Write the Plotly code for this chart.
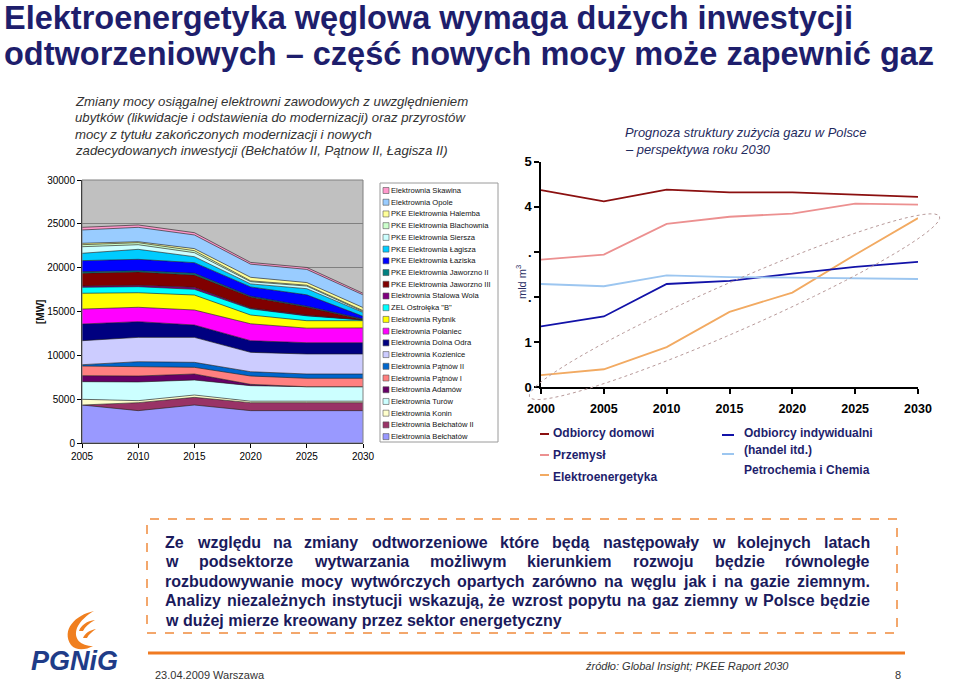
import math
import plotly.graph_objects as go

W, H = 960, 694
def PX(x): return x / W
def PY(y): return 1 - y / H

# ---------------- data: left chart (MW, stacked, bottom -> top) ----------------
years_power = [2005, 2010, 2015, 2020, 2025, 2030]

belchatow     = [4335, 3690, 4335, 3690, 3690, 3690]
belchatow_ii  = [0, 910, 875, 910, 910, 910]
konin         = [650, 230, 265, 170, 170, 170]
turow         = [2010, 2130, 1710, 1770, 1650, 1650]
adamow        = [685, 680, 685, 150, 0, 0]
patnow_i      = [1100, 1060, 760, 950, 960, 960]
patnow_ii     = [150, 570, 570, 490, 490, 490]
kozienice     = [2740, 2780, 2850, 2210, 2280, 2280]
dolna_odra    = [1900, 1790, 1410, 1330, 1290, 1290]
polaniec      = [1710, 1640, 1710, 1930, 1660, 1690]
rybnik        = [1800, 1660, 1710, 1000, 850, 820]
ostroleka_b   = [680, 690, 650, 700, 550, 80]
stalowa_wola  = [150, 160, 230, 100, 80, 0]
jaworzno_iii  = [1450, 1510, 1400, 1250, 920, 30]
jaworzno_ii   = [180, 150, 200, 100, 100, 90]
laziska       = [1260, 1300, 1210, 1050, 1300, 300]
lagisza       = [840, 1140, 680, 350, 700, 450]
siersza       = [750, 530, 460, 250, 300, 100]
blachownia    = [230, 230, 230, 100, 100, 100]
halemba       = [160, 110, 230, 400, 300, 350]
opole         = [1520, 1640, 1560, 1500, 1500, 1450]
skawina       = [300, 270, 260, 200, 220, 180]

station_names = [
    "Elektrownia Bełchatów", "Elektrownia Bełchatów II", "Elektrownia Konin",
    "Elektrownia Turów", "Elektrownia Adamów", "Elektrownia Pątnów I",
    "Elektrownia Pątnów II", "Elektrownia Kozienice", "Elektrownia Dolna Odra",
    "Elektrownia Połaniec", "Elektrownia Rybnik", 'ZEL Ostrołęka "B"',
    "Elektrownia Stalowa Wola", "PKE Elektrownia Jaworzno III", "PKE Elektrownia Jaworzno II",
    "PKE Elektrownia Łaziska", "PKE Elektrownia Łagisza", "PKE Elektrownia Siersza",
    "PKE Elektrownia Blachownia", "PKE Elektrownia Halemba", "Elektrownia Opole",
    "Elektrownia Skawina",
]
station_values = [
    belchatow, belchatow_ii, konin, turow, adamow, patnow_i, patnow_ii, kozienice,
    dolna_odra, polaniec, rybnik, ostroleka_b, stalowa_wola, jaworzno_iii, jaworzno_ii,
    laziska, lagisza, siersza, blachownia, halemba, opole, skawina,
]
station_colors = [
    "#9999FF", "#993366", "#FFFFCC", "#CCFFFF", "#660066", "#FF8080", "#0066CC",
    "#CCCCFF", "#000080", "#FF00FF", "#FFFF00", "#00FFFF", "#800080", "#800000",
    "#008080", "#0000FF", "#00CCFF", "#CCFFFF", "#CCFFCC", "#FFFF99", "#99CCFF",
    "#FF99CC",
]

# ---------------- data: right chart (mld m3) ----------------
years_gas = [2000, 2005, 2010, 2015, 2020, 2025, 2030]
odbiorcy_domowi       = [4.37, 4.12, 4.38, 4.32, 4.32, 4.27, 4.22]
przemysl              = [2.83, 2.94, 3.62, 3.78, 3.85, 4.07, 4.05]
elektroenergetyka     = [0.27, 0.40, 0.89, 1.67, 2.10, 2.94, 3.75]
odbiorcy_indywidualni = [1.35, 1.57, 2.29, 2.36, 2.52, 2.67, 2.78]
petrochemia_chemia    = [2.29, 2.24, 2.48, 2.44, 2.43, 2.42, 2.40]

gas_names = ["Odbiorcy domowi", "Przemysł", "Elektroenergetyka",
             "Odbiorcy indywidualni", "Petrochemia i Chemia"]
gas_values = [odbiorcy_domowi, przemysl, elektroenergetyka,
              odbiorcy_indywidualni, petrochemia_chemia]
gas_colors = ["#8B1010", "#EC9090", "#F2AA62", "#1212A8", "#9CC6F0"]
gas_ticks = [0, 1, 2, 3, 4, 5]
gas_ticktext = ["0", "1", ".", ".", "4", "5"]

# ---------------- texts ----------------
title_lines = ["Elektroenergetyka węglowa wymaga dużych inwestycji",
               "odtworzeniowych – część nowych mocy może zapewnić gaz"]
left_desc = ["Zmiany mocy osiągalnej elektrowni zawodowych z uwzględnieniem",
             "ubytków (likwidacje i odstawienia do modernizacji) oraz przyrostów",
             "mocy z tytułu zakończonych modernizacji i nowych",
             "zadecydowanych inwestycji (Bełchatów II, Pątnow II, Łagisza II)"]
right_desc = ["Prognoza struktury zużycia gazu w Polsce",
              "– perspektywa roku 2030"]
box_lines = ["Ze względu na zmiany odtworzeniowe które będą następowały w kolejnych latach",
             "w podsektorze wytwarzania możliwym kierunkiem rozwoju będzie równoległe",
             "rozbudowywanie mocy wytwórczych opartych zarówno na węglu jak i na gazie ziemnym.",
             "Analizy niezależnych instytucji wskazują, że wzrost popytu na gaz ziemny w Polsce będzie",
             "w dużej mierze kreowany przez sektor energetyczny"]

FONT = "Liberation Sans, Arial, sans-serif"
NAVY = "#1E1E6C"

# approximate Arial/Liberation Sans Bold advance widths (1/1000 em) for justification
BOLD_W = {" ": 278, ",": 278, ".": 278,
          "a": 556, "b": 611, "c": 556, "d": 611, "e": 556, "f": 333, "g": 611, "h": 611,
          "i": 278, "j": 278, "k": 556, "l": 278, "m": 889, "n": 611, "o": 611, "p": 611,
          "q": 611, "r": 389, "s": 556, "t": 333, "u": 611, "v": 556, "w": 778, "x": 556,
          "y": 556, "z": 500, "A": 722, "P": 667, "W": 944, "Z": 611,
          "ą": 556, "ć": 556, "ę": 556, "ł": 278, "ń": 611, "ó": 611, "ś": 556, "ź": 500,
          "ż": 500}
def bold_width(s, size):
    return sum(BOLD_W.get(ch, 600) for ch in s) * size / 1000.0

fig = go.Figure()

# left stacked area chart
for name, vals, col in zip(station_names, station_values, station_colors):
    fig.add_trace(go.Scatter(
        x=years_power, y=vals, name=name, mode="lines", stackgroup="one",
        line=dict(color="#1a1a1a", width=0.6), fillcolor=col,
        xaxis="x", yaxis="y", showlegend=False, hoverinfo="skip"))

# right line chart
for name, vals, col in zip(gas_names, gas_values, gas_colors):
    fig.add_trace(go.Scatter(
        x=years_gas, y=vals, name=name, mode="lines",
        line=dict(color=col, width=1.8), xaxis="x2", yaxis="y2",
        showlegend=False, hoverinfo="skip"))

shapes = []
annotations = []

def ann(text, x, y, size, color, xanchor="left", yanchor="middle", angle=0, family=FONT):
    annotations.append(dict(text=text, x=PX(x), y=PY(y), xref="paper", yref="paper",
                            xanchor=xanchor, yanchor=yanchor, showarrow=False,
                            textangle=angle, borderpad=0, borderwidth=0,
                            font=dict(family=family, size=size, color=color)))

# left plot background + border
shapes.append(dict(type="rect", xref="x domain", yref="y domain", x0=0, x1=1, y0=0, y1=1,
                   fillcolor="#C0C0C0", line=dict(width=0), layer="below"))
shapes.append(dict(type="rect", xref="x domain", yref="y domain", x0=0, x1=1, y0=0, y1=1,
                   fillcolor="rgba(0,0,0,0)", line=dict(color="#808080", width=1), layer="above"))

# left legend (manual, compact)
shapes.append(dict(type="rect", xref="paper", yref="paper", x0=PX(380), x1=PX(498),
                   y0=PY(442), y1=PY(183), line=dict(color="#9a9a9a", width=1),
                   fillcolor="white", layer="above"))
for i, (name, col) in enumerate(zip(station_names[::-1], station_colors[::-1])):
    yc = 190.5 + i * 11.72
    shapes.append(dict(type="rect", xref="paper", yref="paper",
                       x0=PX(383), x1=PX(389), y0=PY(yc + 3), y1=PY(yc - 3),
                       fillcolor=col, line=dict(color="#555555", width=0.6), layer="above"))
    ann(name, 391, yc, 7.6, "#111111")

# right legend (manual)
right_legend_pos = [(540, 549, 434, 553, 433), (540, 549, 455, 553, 455), (540, 549, 475, 553, 477),
                    (722, 734, 435, 744, 433), (722, 734, 454, 744, 470)]
for (name, col, (lx0, lx1, ly, tx, ty)) in zip(gas_names, gas_colors, right_legend_pos):
    shapes.append(dict(type="line", xref="paper", yref="paper", x0=PX(lx0), x1=PX(lx1),
                       y0=PY(ly), y1=PY(ly), line=dict(color=col, width=2)))
    ann("<b>" + name + "</b>", tx, ty, 12, NAVY)
ann("<b>(handel itd.)</b>", 744, 449.5, 12, NAVY)

# dotted ellipse around the power-sector line
cx, cy, a, b = 734.5, 306.7, 224, 24
th = math.atan2(180, 409)
pts = []
for k in range(73):
    t = 2 * math.pi * k / 72
    x = cx + a * math.cos(t) * math.cos(th) + b * math.sin(t) * math.sin(th)
    y = cy - a * math.cos(t) * math.sin(th) + b * math.sin(t) * math.cos(th)
    pts.append((PX(x), PY(y)))
path = "M " + " L ".join(f"{x:.5f},{y:.5f}" for x, y in pts) + " Z"
shapes.append(dict(type="path", xref="paper", yref="paper", path=path,
                   line=dict(color="#B89A9A", width=1, dash="dot")))

# title
for i, line in enumerate(title_lines):
    ann("<b>" + line + "</b>", 4, 18.5 + i * 36, 32.5, NAVY)

# left description
for i, line in enumerate(left_desc):
    ann("<i>" + line + "</i>", 75, 101 + i * 16.5, 13.2, "#333333")

# right description
for i, line in enumerate(right_desc):
    ann("<i>" + line + "</i>", 625, 132 + i * 17, 12.9, "#1F2B5E")

# axis titles
ann("<b>[MW]</b>", 40, 312, 10, "#111111", xanchor="center", angle=-90)
ann("mld m<sup>3</sup>", 521, 282, 11, "#2A2F66", xanchor="center", angle=-90)

# text box with justified lines
shapes.append(dict(type="rect", xref="paper", yref="paper", x0=PX(147), x1=PX(897),
                   y0=PY(633), y1=PY(519), line=dict(color="#F08A3C", width=1.5, dash="dash")))
BOX_FS = 16
BOX_L, BOX_R = 165, 870
for i, line in enumerate(box_lines):
    yc = 542 + i * 19.6
    if i == len(box_lines) - 1:
        ann("<b>" + line + "</b>", BOX_L, yc, BOX_FS, "#1A1A5C")
        continue
    words = line.split(" ")
    widths = [bold_width(w, BOX_FS) for w in words]
    gap = (BOX_R - BOX_L - sum(widths)) / (len(words) - 1)
    x = BOX_L
    for j, w in enumerate(words):
        if j == len(words) - 1:
            ann("<b>" + w + "</b>", BOX_R, yc, BOX_FS, "#1A1A5C", xanchor="right")
        else:
            ann("<b>" + w + "</b>", x, yc, BOX_FS, "#1A1A5C")
        x += widths[j] + gap

# footer
shapes.append(dict(type="line", xref="paper", yref="paper", x0=PX(148), x1=PX(905),
                   y0=PY(653), y1=PY(653), line=dict(color="#F07A21", width=3)))
ann("23.04.2009 Warszawa", 155, 675, 11, "#333333")
ann("<i>źródło: Global Insight; PKEE Raport 2030</i>", 585, 666, 11, "#333333")
ann("8", 898, 675, 11, "#333333", xanchor="center")

# logo
def P(x, y):
    return f"{PX(x):.5f},{PY(y):.5f}"
wing_paths = [
    "M " + P(94, 611) + " C " + P(75, 615) + " " + P(61, 630) + " " + P(71, 645)
    + " C " + P(76, 651) + " " + P(86, 650) + " " + P(93, 646)
    + " C " + P(81, 646) + " " + P(73, 639) + " " + P(77, 628)
    + " C " + P(80, 621) + " " + P(87, 615) + " " + P(94, 611) + " Z",
    "M " + P(95, 620) + " C " + P(87, 621) + " " + P(81, 625) + " " + P(79, 631)
    + " L " + P(83, 631) + " C " + P(85, 627) + " " + P(89, 623) + " " + P(95, 620) + " Z",
    "M " + P(96, 629) + " C " + P(90, 630) + " " + P(85, 633) + " " + P(83, 638)
    + " L " + P(87, 638) + " C " + P(89, 634) + " " + P(92, 632) + " " + P(96, 629) + " Z",
]
for pth in wing_paths:
    shapes.append(dict(type="path", xref="paper", yref="paper", path=pth,
                       fillcolor="#F07F1F", line=dict(width=0)))
ann("<b><i>PGNiG</i></b>", 74, 661, 27, "#1F3C88", xanchor="center")

fig.update_layout(
    width=W, height=H, margin=dict(l=0, r=0, t=0, b=0, pad=0, autoexpand=False),
    paper_bgcolor="white", plot_bgcolor="rgba(0,0,0,0)",
    showlegend=False, font=dict(family=FONT),
    xaxis=dict(domain=[PX(82), PX(363)], range=[2005, 2030], tickvals=years_power,
               ticks="outside", ticklen=4, tickcolor="#000", showline=True, linecolor="#000",
               linewidth=1, showgrid=False, zeroline=False, anchor="y", automargin=False,
               tickfont=dict(family=FONT, size=10, color="#000")),
    yaxis=dict(domain=[PY(443), PY(180)], range=[0, 30000], dtick=5000, tickformat="d",
               ticks="outside", ticklen=4, tickcolor="#000", showline=True, linecolor="#000",
               linewidth=1, showgrid=True, gridcolor="#808080", gridwidth=1, zeroline=False,
               anchor="x", automargin=False, tickfont=dict(family=FONT, size=10, color="#000")),
    xaxis2=dict(domain=[PX(541), PX(918)], range=[2000, 2030], tickvals=years_gas,
                ticks="outside", ticklen=5, tickwidth=1.5, tickcolor="#000", showline=True,
                linecolor="#000", linewidth=1.5, showgrid=False, zeroline=False, anchor="y2",
                ticklabelstandoff=4, automargin=False,
                tickfont=dict(family=FONT, size=12.5, color="#000", weight="bold")),
    yaxis2=dict(domain=[PY(387.3), PY(161.7)], range=[0, 5], tickvals=gas_ticks,
                ticktext=gas_ticktext, ticks="outside", ticklen=5, tickwidth=1.5,
                tickcolor="#000", showline=True, linecolor="#000", linewidth=1.5,
                showgrid=False, zeroline=False, anchor="x2", automargin=False,
                tickfont=dict(family=FONT, size=13, color="#000", weight="bold")),
    shapes=shapes, annotations=annotations,
)

fig.write_html(
    "out.html", config={"displayModeBar": False},
    post_script=("document.documentElement.style.overflow='hidden';"
                 "document.body.style.margin='0';document.body.style.overflow='hidden';"
                 "var d=document.querySelector('.plotly-graph-div');"
                 "d.style.position='fixed';d.style.left='0px';d.style.top='0px';"))
